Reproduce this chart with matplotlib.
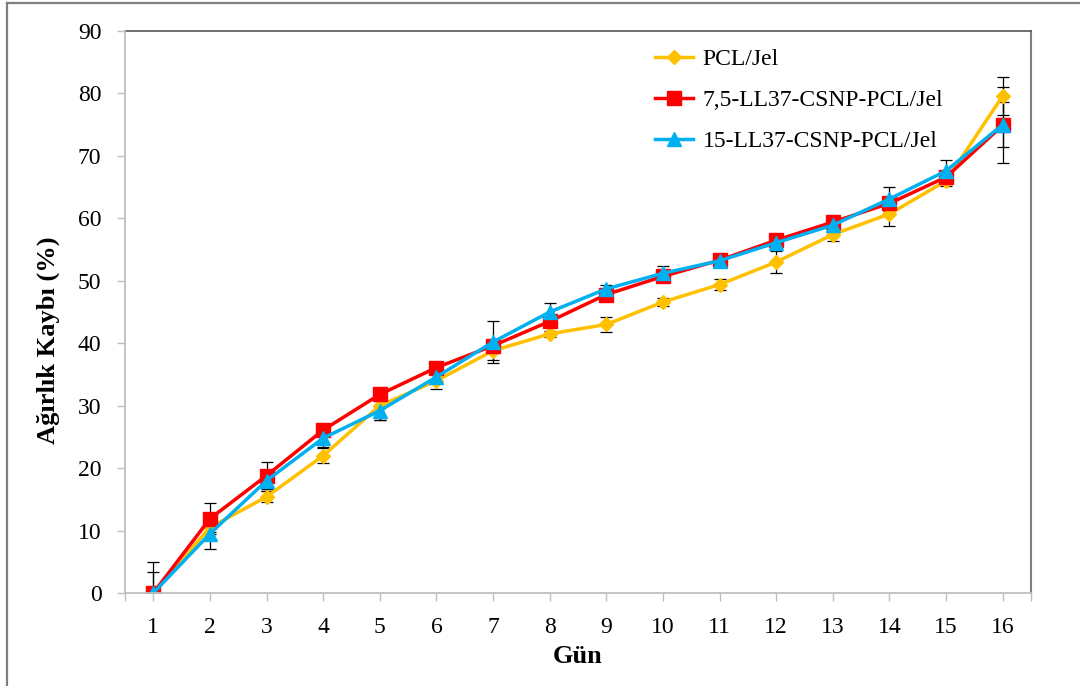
import numpy as np
import matplotlib
matplotlib.use('Agg')
import matplotlib.pyplot as plt
from matplotlib.lines import Line2D

# veriler
days = np.arange(1, 17)
day_labels = [str(d) for d in days]

pcl_jel = [0.0, 10.5, 15.4, 22.0, 30.0, 34.0, 38.8, 41.5, 43.0, 46.6, 49.4, 53.0, 57.4, 60.7, 66.0, 79.6]
pcl_jel_err = [0.0, 0.8, 0.9, 1.2, 2.3, 1.4, 1.5, 0.5, 1.2, 0.6, 0.9, 1.8, 1.0, 1.9, 0.9, 3.0]

ll37_75 = [0.0, 11.9, 18.8, 26.1, 31.8, 36.1, 39.6, 43.5, 47.8, 50.7, 53.3, 56.5, 59.4, 62.4, 66.6, 74.9]
ll37_75_err = [5.0, 2.5, 2.2, 0.8, 0.5, 0.5, 0.6, 0.7, 0.6, 0.8, 0.4, 0.5, 0.4, 0.5, 0.6, 6.1]

ll37_15 = [0.0, 9.5, 18.0, 24.8, 29.2, 34.6, 40.2, 45.0, 48.7, 51.2, 53.2, 56.1, 58.9, 63.1, 67.6, 75.0]
ll37_15_err = [3.4, 2.4, 1.7, 1.4, 1.5, 0.7, 3.3, 1.4, 0.6, 1.2, 0.5, 0.6, 0.5, 1.9, 1.7, 3.6]

series_labels = ['PCL/Jel', '7,5-LL37-CSNP-PCL/Jel', '15-LL37-CSNP-PCL/Jel']

plt.rcParams['font.family'] = ['Liberation Serif', 'DejaVu Serif']

fig = plt.figure(figsize=(10.8, 6.86), dpi=100)
ax = fig.add_axes([125 / 1080, 93 / 686, 906 / 1080, 562 / 686])

# hata çubukları
err_style = dict(fmt='none', ecolor='black', elinewidth=0.9, capsize=4, capthick=0.9, zorder=2)
ax.errorbar(days, pcl_jel, yerr=pcl_jel_err, **err_style)
ax.errorbar(days, ll37_75, yerr=ll37_75_err, **err_style)
ax.errorbar(days, ll37_15, yerr=ll37_15_err, **err_style)

ax.plot(days, pcl_jel, color='#FFC000', lw=2.5, marker='D', ms=7.5,
        label=series_labels[0], zorder=3)
ax.plot(days, ll37_75, color='#FF0000', lw=2.5, marker='s', ms=9.5,
        label=series_labels[1], zorder=4)
ax.plot(days, ll37_15, color='#00B0F0', lw=2.5, marker='^', ms=10,
        label=series_labels[2], zorder=5)

ax.set_xlim(0.5, 16.5)
ax.set_ylim(0, 90)
ax.set_yticks(np.arange(0, 91, 10))
ax.set_xticks(days)
ax.set_xticklabels(day_labels)
ax.set_xticks([0.5, 16.5], minor=True)

ax.tick_params(axis='both', which='both', direction='out', length=6, width=1,
               color='#BFBFBF', labelsize=17, pad=11)

for s in ['left', 'bottom']:
    ax.spines[s].set_color('#BFBFBF')
    ax.spines[s].set_linewidth(1.3)
    ax.spines[s].set_zorder(6)
ax.spines['top'].set_color('#555555')
ax.spines['right'].set_color('#808080')
ax.spines['top'].set_linewidth(1.2)
ax.spines['right'].set_linewidth(1.5)

ax.set_xlabel('Gün', fontsize=19, fontweight='bold', labelpad=5)
ax.set_ylabel('Ağırlık Kaybı (%)', fontsize=19, fontweight='bold')
ax.yaxis.set_label_coords(-0.072, 0.45)

ax.legend(loc='upper left', bbox_to_anchor=(0.575, 0.985), frameon=False,
          fontsize=17, handlelength=1.6, labelspacing=0.82, borderaxespad=0,
          handletextpad=0.4)

# dış çerçeve
fig.add_artist(Line2D([7 / 1080, 7 / 1080], [0, 1 - 3 / 686], color='#7F7F7F', lw=1.6))
fig.add_artist(Line2D([7 / 1080, 1], [1 - 3 / 686, 1 - 3 / 686], color='#7F7F7F', lw=1.6))

fig.savefig('out.png', dpi=100)
plt.close(fig)
